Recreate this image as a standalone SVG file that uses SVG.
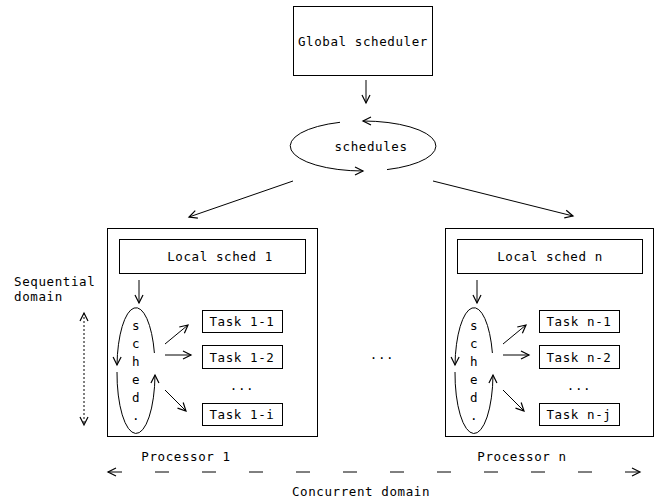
<svg xmlns="http://www.w3.org/2000/svg" width="668" height="501" viewBox="0 0 668 501">
<style>
text{font-family:"DejaVu Sans Mono","Liberation Mono",monospace;font-size:12.5px;fill:#000;letter-spacing:0.6px}
.box{fill:#fff;stroke:#000;stroke-width:1}
.ln{fill:none;stroke:#000;stroke-width:1}
</style>
<defs>
<marker id="ah" markerUnits="userSpaceOnUse" markerWidth="12" markerHeight="12" refX="9" refY="5" orient="auto" overflow="visible">
<path d="M1,1 L9,5 L1,9" fill="none" stroke="#000" stroke-width="1.2" stroke-dasharray="none"/>
</marker>
<marker id="ahs" markerUnits="userSpaceOnUse" markerWidth="12" markerHeight="12" refX="9" refY="5" orient="auto-start-reverse" overflow="visible">
<path d="M1,1 L9,5 L1,9" fill="none" stroke="#000" stroke-width="1.2" stroke-dasharray="none"/>
</marker>
</defs>
<rect width="668" height="501" fill="#fff"/>

<g id="global">
<rect class="box" x="293.5" y="6.5" width="139" height="69"/>
<text x="363" y="46" text-anchor="middle">Global scheduler</text>
</g>

<g id="schedules">
<text x="371" y="151" text-anchor="middle">schedules</text>
</g>

<g id="processor1">
<rect class="box" x="107.5" y="228.5" width="210" height="208"/>
<g id="local1"><rect class="box" x="119.5" y="239.5" width="186" height="34"/><text x="220" y="261" text-anchor="middle">Local sched 1</text></g>
<g id="sched1">
<text x="136" y="330" text-anchor="middle">s</text>
<text x="136" y="348" text-anchor="middle">c</text>
<text x="136" y="366" text-anchor="middle">h</text>
<text x="136" y="384" text-anchor="middle">e</text>
<text x="136" y="402" text-anchor="middle">d</text>
<text x="136" y="420" text-anchor="middle">.</text>
</g>
<g id="task11"><rect class="box" x="202.5" y="310.5" width="80" height="22"/><text x="242" y="326" text-anchor="middle">Task 1-1</text></g>
<g id="task12"><rect class="box" x="202.5" y="345.5" width="80" height="23"/><text x="242" y="362" text-anchor="middle">Task 1-2</text></g>
<text x="242" y="390" text-anchor="middle">...</text>
<g id="task1i"><rect class="box" x="202.5" y="403.5" width="80" height="22"/><text x="242" y="419" text-anchor="middle">Task 1-i</text></g>
<text x="186" y="461" text-anchor="middle">Processor 1</text>
</g>

<g id="processorn">
<rect class="box" x="445.5" y="228.5" width="208" height="208"/>
<g id="localn"><rect class="box" x="457.5" y="239.5" width="185" height="34"/><text x="550" y="261" text-anchor="middle">Local sched n</text></g>
<g id="schedn">
<text x="474" y="330" text-anchor="middle">s</text>
<text x="474" y="348" text-anchor="middle">c</text>
<text x="474" y="366" text-anchor="middle">h</text>
<text x="474" y="384" text-anchor="middle">e</text>
<text x="474" y="402" text-anchor="middle">d</text>
<text x="474" y="420" text-anchor="middle">.</text>
</g>
<g id="taskn1"><rect class="box" x="539.5" y="310.5" width="80" height="22"/><text x="579" y="326" text-anchor="middle">Task n-1</text></g>
<g id="taskn2"><rect class="box" x="539.5" y="345.5" width="80" height="23"/><text x="579" y="362" text-anchor="middle">Task n-2</text></g>
<text x="579" y="390" text-anchor="middle">...</text>
<g id="tasknj"><rect class="box" x="539.5" y="403.5" width="80" height="22"/><text x="579" y="419" text-anchor="middle">Task n-j</text></g>
<text x="522" y="461" text-anchor="middle">Processor n</text>
</g>

<text x="382" y="359" text-anchor="middle">...</text>

<g id="labels">
<text x="14" y="286">Sequential</text>
<text x="14" y="301">domain</text>
<text x="361" y="496" text-anchor="middle">Concurrent domain</text>
</g>

<g id="connectors">
<line class="ln" x1="366" y1="80" x2="366" y2="103" marker-end="url(#ah)"/>
<path class="ln" d="M340,122.3 A73,25 0 0 0 363,171" marker-end="url(#ah)"/>
<path class="ln" d="M387,169.6 A73,25 0 0 0 363,121" marker-end="url(#ah)"/>
<line class="ln" x1="293" y1="181" x2="189" y2="217" marker-end="url(#ah)"/>
<line class="ln" x1="433" y1="181" x2="573" y2="216" marker-end="url(#ah)"/>

<line class="ln" x1="139" y1="280" x2="139" y2="303" marker-end="url(#ah)"/>
<path class="ln" d="M154.4,353 A19,60 0 0 0 117,365" marker-end="url(#ah)"/>
<path class="ln" d="M117,372 A19,60 0 0 0 155,375" marker-end="url(#ah)"/>
<line class="ln" x1="165" y1="344" x2="188" y2="325" marker-end="url(#ah)"/>
<line class="ln" x1="165" y1="355" x2="191" y2="355" marker-end="url(#ah)"/>
<line class="ln" x1="165" y1="390" x2="186" y2="411" marker-end="url(#ah)"/>

<line class="ln" x1="477" y1="280" x2="477" y2="303" marker-end="url(#ah)"/>
<path class="ln" d="M492.4,353 A19,60 0 0 0 455,365" marker-end="url(#ah)"/>
<path class="ln" d="M455,372 A19,60 0 0 0 493,375" marker-end="url(#ah)"/>
<line class="ln" x1="503" y1="344" x2="526" y2="325" marker-end="url(#ah)"/>
<line class="ln" x1="503" y1="355" x2="529" y2="355" marker-end="url(#ah)"/>
<line class="ln" x1="503" y1="390" x2="524" y2="411" marker-end="url(#ah)"/>

<line class="ln" x1="84" y1="313" x2="84" y2="425" stroke-dasharray="2 2" marker-start="url(#ahs)" marker-end="url(#ahs)"/>
<line class="ln" x1="108" y1="472" x2="640" y2="472" stroke-dasharray="14 33" marker-start="url(#ahs)" marker-end="url(#ahs)"/>
</g>
</svg>
